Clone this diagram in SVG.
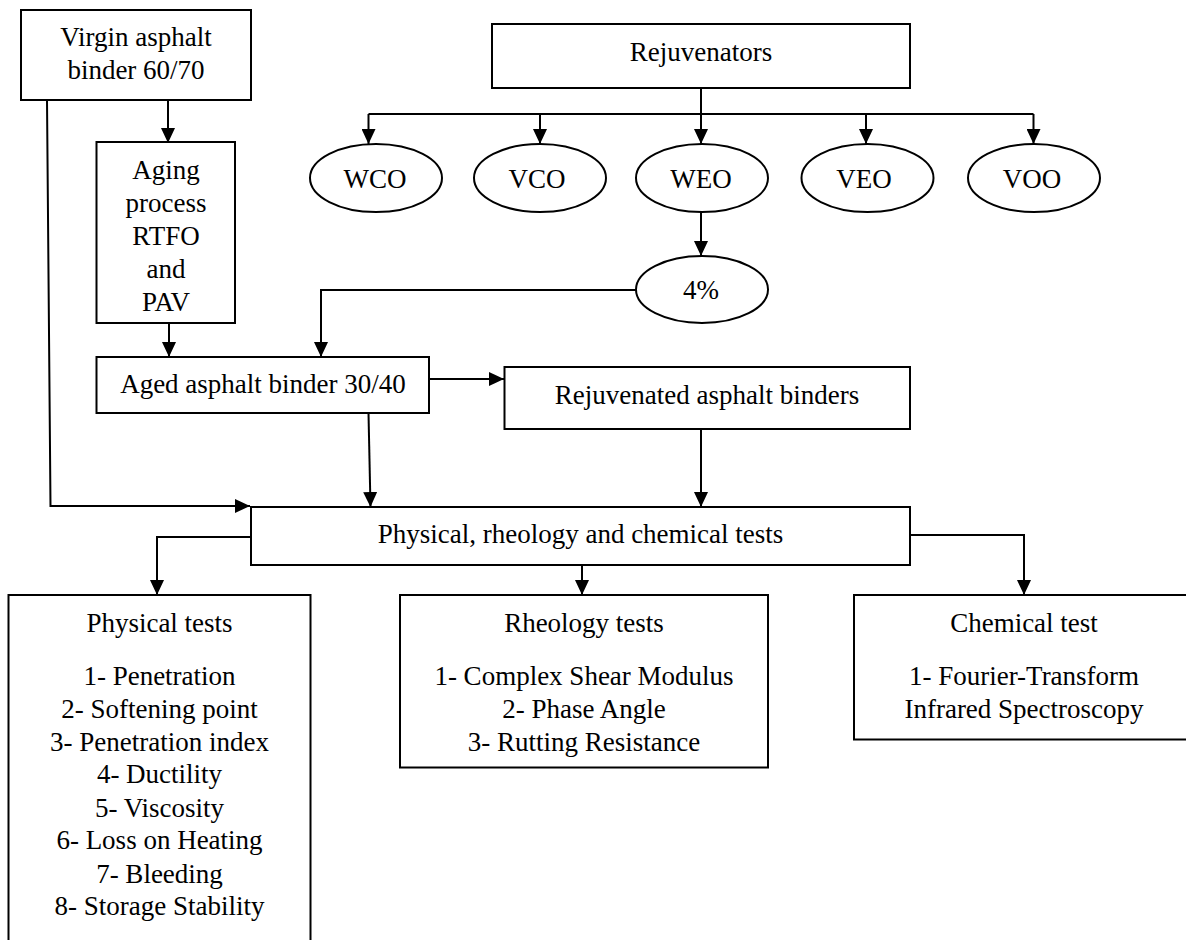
<svg xmlns="http://www.w3.org/2000/svg" width="1186" height="940" viewBox="0 0 1186 940">
<style>
.box{fill:#fff;stroke:#000;stroke-width:2}
.el{fill:#fff;stroke:#000;stroke-width:2}
.t{font-family:'Liberation Serif','Times New Roman',serif;font-size:27px;fill:#000;text-anchor:middle}
.c{fill:none;stroke:#000;stroke-width:2}
.a{marker-end:url(#ah)}
</style>
<defs>
<marker id="ah" markerUnits="userSpaceOnUse" markerWidth="15" markerHeight="14" refX="15" refY="7" orient="auto">
<path d="M0,0 L15,7 L0,14 z" fill="#000"/>
</marker>
</defs>
<rect width="1186" height="940" fill="#fff"/>
<g id="connectors">
<line class="c a" x1="168" y1="100" x2="168" y2="143"/>
<polyline class="c a" points="47,100 50.5,506 250,506"/>
<line class="c a" x1="169" y1="323" x2="169" y2="357"/>
<polyline class="c a" points="636,290 321,290 321,357"/>
<line class="c" x1="701" y1="88" x2="701" y2="114"/>
<line class="c" x1="368.5" y1="114" x2="1033.5" y2="114"/>
<line class="c a" x1="368.5" y1="114" x2="368.5" y2="144"/>
<line class="c a" x1="540" y1="114" x2="540" y2="144"/>
<line class="c a" x1="701" y1="114" x2="701" y2="144"/>
<line class="c a" x1="866" y1="114" x2="866" y2="144"/>
<line class="c a" x1="1033.5" y1="114" x2="1033.5" y2="144"/>
<line class="c a" x1="701" y1="212" x2="701" y2="256"/>
<line class="c a" x1="429" y1="379" x2="504" y2="379"/>
<line class="c a" x1="368.5" y1="413" x2="370.5" y2="507"/>
<line class="c a" x1="701" y1="429" x2="701" y2="507"/>
<polyline class="c a" points="251,537 157,537 157,595"/>
<line class="c a" x1="582" y1="565" x2="582" y2="595"/>
<polyline class="c a" points="910,535 1024,535 1024,595"/>
</g>
<g id="virgin">
<rect class="box" x="21" y="10" width="230" height="90"/>
<text class="t" x="136" y="46">Virgin asphalt</text>
<text class="t" x="136" y="79">binder 60/70</text>
</g>
<g id="aging">
<rect class="box" x="96.5" y="142" width="138.5" height="181"/>
<text class="t" x="166" y="179">Aging</text>
<text class="t" x="166" y="212">process</text>
<text class="t" x="166" y="245">RTFO</text>
<text class="t" x="166" y="278">and</text>
<text class="t" x="166" y="311">PAV</text>
</g>
<g id="rejuvenators">
<rect class="box" x="492" y="24" width="418" height="64"/>
<text class="t" x="701" y="61">Rejuvenators</text>
</g>
<g id="wco">
<ellipse class="el" cx="376" cy="178" rx="66" ry="34"/>
<text class="t" x="375" y="188">WCO</text>
</g>
<g id="vco">
<ellipse class="el" cx="540" cy="178" rx="66" ry="34"/>
<text class="t" x="537" y="188">VCO</text>
</g>
<g id="weo">
<ellipse class="el" cx="702" cy="178" rx="66" ry="34"/>
<text class="t" x="701" y="188">WEO</text>
</g>
<g id="veo">
<ellipse class="el" cx="867.5" cy="178" rx="66" ry="34"/>
<text class="t" x="864" y="188">VEO</text>
</g>
<g id="voo">
<ellipse class="el" cx="1034" cy="178" rx="66" ry="34"/>
<text class="t" x="1032" y="188">VOO</text>
</g>
<g id="pct4">
<ellipse class="el" cx="702" cy="289.5" rx="66" ry="33.5"/>
<text class="t" x="701" y="299">4%</text>
</g>
<g id="aged">
<rect class="box" x="96.5" y="357" width="332.5" height="56"/>
<text class="t" x="263" y="393">Aged asphalt binder 30/40</text>
</g>
<g id="rejuvenated">
<rect class="box" x="504.5" y="367" width="405.5" height="62"/>
<text class="t" x="707" y="404">Rejuvenated asphalt binders</text>
</g>
<g id="tests">
<rect class="box" x="251" y="507" width="659" height="58"/>
<text class="t" x="580.5" y="543">Physical, rheology and chemical tests</text>
</g>
<g id="physical">
<rect class="box" x="8.5" y="595" width="302" height="360"/>
<text class="t" x="159.5" y="632">Physical tests</text>
<text class="t" x="159.5" y="685">1- Penetration</text>
<text class="t" x="159.5" y="718">2- Softening point</text>
<text class="t" x="159.5" y="751">3- Penetration index</text>
<text class="t" x="159.5" y="783">4- Ductility</text>
<text class="t" x="159.5" y="817">5- Viscosity</text>
<text class="t" x="159.5" y="849">6- Loss on Heating</text>
<text class="t" x="159.5" y="883">7- Bleeding</text>
<text class="t" x="159.5" y="915">8- Storage Stability</text>
</g>
<g id="rheology">
<rect class="box" x="400" y="595" width="368" height="172.5"/>
<text class="t" x="584" y="632">Rheology tests</text>
<text class="t" x="584" y="685">1- Complex Shear Modulus</text>
<text class="t" x="584" y="718">2- Phase Angle</text>
<text class="t" x="584" y="751">3- Rutting Resistance</text>
</g>
<g id="chemical">
<rect class="box" x="854" y="595" width="345" height="144.5"/>
<text class="t" x="1024" y="632">Chemical test</text>
<text class="t" x="1024" y="685">1- Fourier-Transform</text>
<text class="t" x="1024" y="718">Infrared Spectroscopy</text>
</g>
</svg>
